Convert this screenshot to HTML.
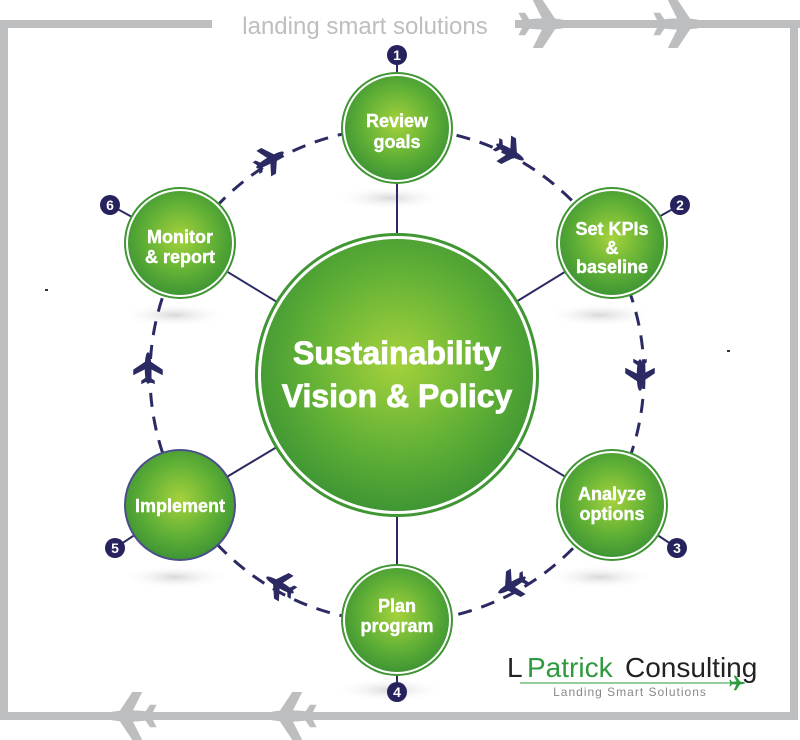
<!DOCTYPE html>
<html><head><meta charset="utf-8"><style>
html,body{margin:0;padding:0;background:#fff;}
svg{display:block;}
text{font-family:"Liberation Sans",Arial,sans-serif;}
</style></head><body>
<svg width="800" height="740" viewBox="0 0 800 740" xmlns="http://www.w3.org/2000/svg">
<defs>
<radialGradient id="g" cx="50%" cy="45%" r="55%">
<stop offset="0" stop-color="#a6d23c"/><stop offset="0.6" stop-color="#62b136"/><stop offset="1" stop-color="#3f9633"/>
</radialGradient>
<radialGradient id="sh" cx="50%" cy="50%" r="50%">
<stop offset="0" stop-color="#d8d8d8"/><stop offset="1" stop-color="#fff" stop-opacity="0"/>
</radialGradient>
<g id="plane"><path d="M-14,0 L14,0 M0,-2 L-6,-14 L-2,-14 L6,-2 Z M0,2 L-6,14 L-2,14 L6,2 Z M-12,0 L-15,-6 L-13,-6 L-9,0 L-13,6 L-15,6 Z" /><ellipse cx="0" cy="0" rx="15" ry="2.5"/></g>
</defs>
<g fill="#bdbec0">
<rect x="0" y="20" width="212" height="8"/>
<rect x="515" y="20" width="285" height="8"/>
<rect x="0" y="20" width="8" height="700"/>
<rect x="790" y="20" width="8" height="700"/>
<rect x="0" y="712" width="798" height="8"/>
</g>
<text x="365" y="34" font-size="24" fill="#bdbec0" text-anchor="middle">landing smart solutions</text>
<g fill="#bdbec0" stroke="#bdbec0" stroke-width="2">
<use href="#plane" transform="translate(545,24) scale(1.6)"/>
<use href="#plane" transform="translate(680,24) scale(1.6)"/>
<use href="#plane" transform="translate(130,716) scale(-1.6,1.6)"/>
<use href="#plane" transform="translate(290,716) scale(-1.6,1.6)"/>
</g>
<g fill="url(#sh)">
<ellipse cx="390" cy="198" rx="55" ry="12"/>
<ellipse cx="600" cy="315" rx="55" ry="12"/>
<ellipse cx="600" cy="577" rx="55" ry="12"/>
<ellipse cx="390" cy="690" rx="55" ry="12"/>
<ellipse cx="175" cy="577" rx="55" ry="12"/>
<ellipse cx="175" cy="315" rx="55" ry="12"/>
</g>
<circle cx="397" cy="375" r="247" fill="none" stroke="#2b2a63" stroke-width="3" stroke-dasharray="14 10"/>
<g stroke="#2b2a63" stroke-width="2">
<line x1="397" y1="128" x2="397" y2="375"/>
<line x1="612" y1="243" x2="397" y2="375"/>
<line x1="612" y1="505" x2="397" y2="375"/>
<line x1="397" y1="620" x2="397" y2="375"/>
<line x1="180" y1="505" x2="397" y2="375"/>
<line x1="180" y1="243" x2="397" y2="375"/>
<line x1="397" y1="128" x2="397" y2="55"/>
<line x1="612" y1="243" x2="680" y2="205"/>
<line x1="612" y1="505" x2="677" y2="548"/>
<line x1="397" y1="620" x2="397" y2="692"/>
<line x1="180" y1="505" x2="115" y2="548"/>
<line x1="180" y1="243" x2="110" y2="205"/>
</g>
<g fill="#2b2a63" stroke="#2b2a63" stroke-width="1.5">
<use href="#plane" transform="translate(270,160) rotate(-30)"/>
<use href="#plane" transform="translate(510,152) rotate(30)"/>
<use href="#plane" transform="translate(640,375) rotate(90)"/>
<use href="#plane" transform="translate(512,585) rotate(150)"/>
<use href="#plane" transform="translate(280,585) rotate(210)"/>
<use href="#plane" transform="translate(148,368) rotate(-90)"/>
</g>
<circle cx="397" cy="375" r="142" fill="#3f9633"/>
<circle cx="397" cy="375" r="139" fill="#fff"/>
<circle cx="397" cy="375" r="136" fill="url(#g)"/>
<g font-size="32" font-weight="bold" fill="#fff" stroke="#fff" stroke-width="0.8" text-anchor="middle">
<text x="397" y="364">Sustainability</text>
<text x="397" y="407">Vision &amp; Policy</text>
</g>
<g>
<circle cx="397" cy="128" r="56" fill="#3f9633"/><circle cx="397" cy="128" r="54" fill="#fff"/><circle cx="397" cy="128" r="52" fill="url(#g)"/>
<circle cx="612" cy="243" r="56" fill="#3f9633"/><circle cx="612" cy="243" r="54" fill="#fff"/><circle cx="612" cy="243" r="52" fill="url(#g)"/>
<circle cx="612" cy="505" r="56" fill="#3f9633"/><circle cx="612" cy="505" r="54" fill="#fff"/><circle cx="612" cy="505" r="52" fill="url(#g)"/>
<circle cx="397" cy="620" r="56" fill="#3f9633"/><circle cx="397" cy="620" r="54" fill="#fff"/><circle cx="397" cy="620" r="52" fill="url(#g)"/>
<circle cx="180" cy="505" r="56" fill="#4a4f8a"/><circle cx="180" cy="505" r="54" fill="url(#g)"/>
<circle cx="180" cy="243" r="56" fill="#3f9633"/><circle cx="180" cy="243" r="54" fill="#fff"/><circle cx="180" cy="243" r="52" fill="url(#g)"/>
</g>
<g font-size="18" font-weight="bold" fill="#fff" stroke="#fff" stroke-width="0.4" text-anchor="middle">
<text x="397" y="127">Review</text><text x="397" y="148">goals</text>
<text x="612" y="235">Set KPIs</text><text x="612" y="254">&amp;</text><text x="612" y="273">baseline</text>
<text x="612" y="500">Analyze</text><text x="612" y="520">options</text>
<text x="397" y="612">Plan</text><text x="397" y="632">program</text>
<text x="180" y="512">Implement</text>
<text x="180" y="243">Monitor</text><text x="180" y="263">&amp; report</text>
</g>
<g fill="#25225e">
<circle cx="397" cy="55" r="10"/><circle cx="680" cy="205" r="10"/><circle cx="677" cy="548" r="10"/>
<circle cx="397" cy="692" r="10"/><circle cx="115" cy="548" r="10"/><circle cx="110" cy="205" r="10"/>
</g>
<g font-size="14" font-weight="bold" fill="#fff" text-anchor="middle">
<text x="397" y="60">1</text><text x="680" y="210">2</text><text x="677" y="553">3</text>
<text x="397" y="697">4</text><text x="115" y="553">5</text><text x="110" y="210">6</text>
</g>
<rect x="45" y="289" width="3" height="2" fill="#333"/>
<rect x="727" y="350" width="3" height="2" fill="#333"/>
<text x="507" y="677" font-size="28" fill="#222">L</text>
<text x="527" y="677" font-size="28" fill="#2e9a3e">Patrick</text>
<text x="625" y="677" font-size="28" fill="#222">Consulting</text>
<line x1="520" y1="683" x2="745" y2="683" stroke="#2e9a3e" stroke-width="1"/>
<g fill="#2e9a3e" stroke="#2e9a3e"><use href="#plane" transform="translate(737,683) scale(0.5)"/></g>
<text x="630" y="696" font-size="12" fill="#888" text-anchor="middle" letter-spacing="1">Landing Smart Solutions</text>
</svg>
</body></html>
